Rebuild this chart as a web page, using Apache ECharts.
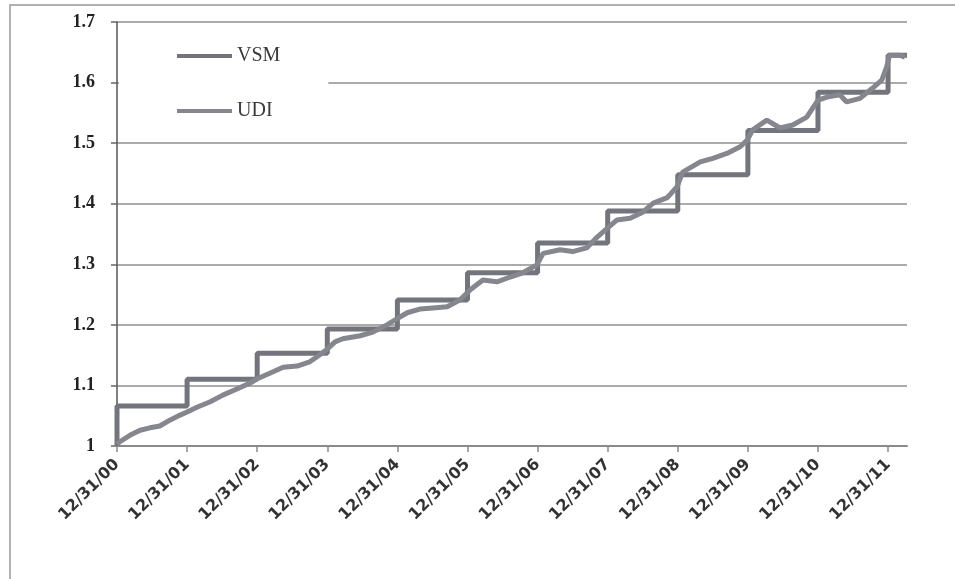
<!DOCTYPE html>
<html>
<head>
<meta charset="utf-8">
<script src="https://cdn.jsdelivr.net/npm/echarts@6/dist/echarts.min.js"></script>
<style>html,body{margin:0;padding:0;background:#fff;}#c{width:955px;height:579px;}</style>
</head>
<body>
<div id="c"></div>
<script>
// x positions are in years after 12/31/00
const xTickLabels = ['12/31/00','12/31/01','12/31/02','12/31/03','12/31/04','12/31/05','12/31/06','12/31/07','12/31/08','12/31/09','12/31/10','12/31/11'];
const yTicks = [1, 1.1, 1.2, 1.3, 1.4, 1.5, 1.6, 1.7];
const xEnd = 11.27;

const vsmX = [0, 1, 2, 3, 4, 5, 6, 7, 8, 9, 10, 11, 11.27];
const vsmValues = [1.0, 1.066, 1.11, 1.153, 1.193, 1.241, 1.286, 1.335, 1.388, 1.448, 1.521, 1.584, 1.645];

const udiX = [0,0.04,0.19,0.33,0.47,0.61,0.76,0.90,1.00,1.14,1.33,1.51,1.71,1.90,2.00,2.18,2.37,2.57,2.75,2.85,2.98,3.11,3.22,3.47,3.65,3.85,4.01,4.14,4.32,4.51,4.71,4.89,5.04,5.22,5.42,5.61,5.79,5.99,6.08,6.32,6.50,6.70,6.85,7.00,7.13,7.32,7.50,7.65,7.85,7.99,8.07,8.32,8.50,8.70,8.89,8.99,9.07,9.27,9.46,9.64,9.84,10.00,10.13,10.31,10.41,10.60,10.78,10.91,10.98,11.02,11.17,11.24];
const udiValues = [1.003,1.007,1.018,1.026,1.030,1.033,1.043,1.051,1.056,1.064,1.073,1.084,1.094,1.104,1.111,1.120,1.130,1.132,1.139,1.147,1.158,1.172,1.177,1.182,1.188,1.200,1.211,1.220,1.226,1.228,1.230,1.241,1.258,1.274,1.271,1.279,1.286,1.299,1.318,1.324,1.321,1.327,1.345,1.360,1.373,1.376,1.386,1.401,1.410,1.428,1.452,1.469,1.475,1.483,1.494,1.505,1.522,1.538,1.525,1.530,1.543,1.571,1.576,1.580,1.568,1.574,1.591,1.604,1.626,1.645,1.645,1.642];

const vsmData = vsmX.map((x, i) => [x, vsmValues[i]]);
const udiData = udiX.map((x, i) => [x, udiValues[i]]);
const xTickValues = xTickLabels.map((_, i) => i);

const chart = echarts.init(document.getElementById('c'), null, {renderer: 'canvas'});
chart.setOption({
  backgroundColor: '#fff',
  animation: false,
  graphic: [{
    type: 'rect', silent: true, z: -10,
    shape: {x: 10, y: 5, width: 1000, height: 700},
    style: {fill: 'none', stroke: '#999', lineWidth: 1.5}
  }],
  grid: {left: 117, right: 48, top: 22, bottom: 133},
  legend: {
    orient: 'vertical',
    left: 119, top: 26,
    padding: [20, 48, 18, 58],
    itemGap: 35,
    itemWidth: 55, itemHeight: 4,
    icon: 'rect',
    backgroundColor: '#fff',
    textStyle: {fontFamily: 'Liberation Serif', fontSize: 20, color: '#3a3a3a'},
    data: ['VSM', 'UDI']
  },
  xAxis: {
    type: 'value', min: 0, max: xEnd, interval: 1,
    axisLine: {show: true, lineStyle: {color: '#8a8a8a', width: 2}},
    axisTick: {show: true, length: 6, lineStyle: {color: '#8a8a8a', width: 1.5}, customValues: xTickValues},
    splitLine: {show: false},
    axisLabel: {
      rotate: 45, margin: 16,
      customValues: xTickValues,
      fontFamily: 'DejaVu Sans', fontWeight: 'bold', fontSize: 16, color: '#333',
      formatter: v => (Number.isInteger(v) && xTickLabels[v] !== undefined) ? xTickLabels[v] : ''
    }
  },
  yAxis: {
    type: 'value', min: yTicks[0], max: yTicks[yTicks.length - 1], interval: 0.1,
    axisLine: {show: true, lineStyle: {color: '#555', width: 1.5}},
    axisTick: {show: true, length: 6, lineStyle: {color: '#666', width: 1.5}},
    splitLine: {show: true, lineStyle: {color: '#8f8f8f', width: 1.5}},
    axisLabel: {
      margin: 22,
      fontFamily: 'Liberation Serif', fontWeight: 'bold', fontSize: 18, color: '#222',
      formatter: v => {
        const t = yTicks.find(y => Math.abs(y - v) < 1e-6);
        return t === undefined ? '' : String(t);
      }
    }
  },
  series: [
    {
      name: 'VSM', type: 'line', step: 'start', data: vsmData,
      symbol: 'none', z: 3,
      lineStyle: {color: '#74747c', width: 5},
      itemStyle: {color: '#74747c'}
    },
    {
      name: 'UDI', type: 'line', data: udiData,
      symbol: 'none', z: 4,
      lineStyle: {color: '#86868e', width: 5},
      itemStyle: {color: '#86868e'}
    }
  ]
});
</script>
</body>
</html>
